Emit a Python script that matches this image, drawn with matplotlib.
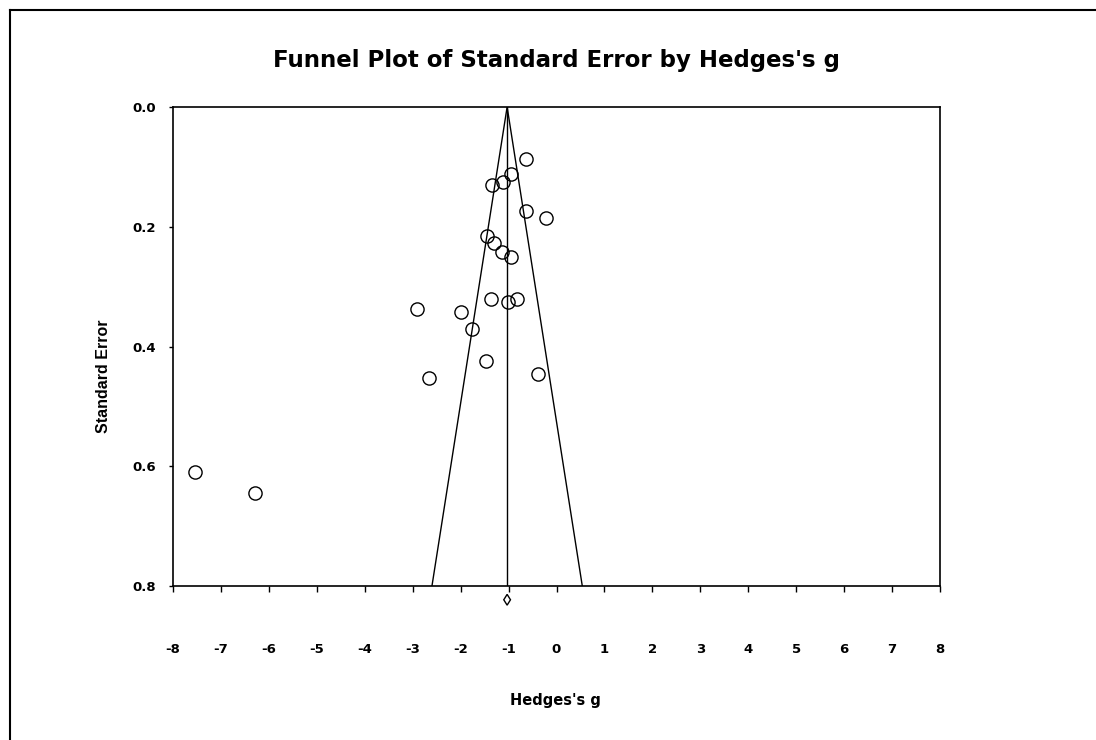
import matplotlib
matplotlib.use("Agg")
import matplotlib.pyplot as plt
from matplotlib.lines import Line2D
from matplotlib.patches import Polygon
import numpy as np

# Study effect sizes (Hedges's g) and standard errors
hedges_g = [-0.64, -0.95, -1.35, -1.11, -0.64, -0.22, -1.46, -1.30, -1.13, -0.95,
            -1.37, -1.01, -0.82, -2.90, -1.99, -1.77, -1.47, -2.65, -0.39, -7.55, -6.28]
std_err = [0.087, 0.112, 0.130, 0.126, 0.173, 0.186, 0.215, 0.227, 0.243, 0.251,
           0.321, 0.325, 0.321, 0.338, 0.343, 0.371, 0.424, 0.452, 0.446, 0.609, 0.645]
summary_g = -1.03
summary_ci_half = 0.07

x_ticks = list(range(-8, 9))
y_ticks = [0.0, 0.2, 0.4, 0.6, 0.8]
se_max = 0.8

plt.rcParams['font.family'] = ['DejaVu Sans']

fig = plt.figure(figsize=(10.96, 7.40), dpi=100)
ax = fig.add_axes([173/1096, 1-586/740, (940-173)/1096, (586-107)/740])

# funnel
ax.plot([summary_g - 1.96*se_max, summary_g, summary_g + 1.96*se_max], [se_max, 0, se_max],
        color='black', lw=1.0)
ax.plot([summary_g, summary_g], [0, se_max], color='black', lw=1.0)

ax.plot(hedges_g, std_err, linestyle='none', marker='o', markersize=9.5,
        markerfacecolor='none', markeredgecolor='black', markeredgewidth=1.0)

# summary diamond below the axis
yc = se_max + 0.023
hh = 0.009
diamond = Polygon([[summary_g - summary_ci_half, yc], [summary_g, yc - hh],
                   [summary_g + summary_ci_half, yc], [summary_g, yc + hh]],
                  closed=True, fill=False, edgecolor='black', lw=1.0, clip_on=False)
ax.add_patch(diamond)

ax.set_xlim(-8, 8)
ax.set_ylim(se_max, 0)
ax.set_xticks(x_ticks)
ax.set_xticklabels([str(t) for t in x_ticks], fontsize=9.5, fontweight='bold')
ax.set_yticks(y_ticks)
ax.set_yticklabels([f"{t:.1f}" for t in y_ticks], fontsize=9.5, fontweight='bold')
ax.tick_params(axis='x', direction='out', length=4, width=1, pad=37)
ax.tick_params(axis='y', direction='out', length=3, width=1, pad=9)
for s in ax.spines.values():
    s.set_linewidth(1.2)

fig.text(556/1096, 1-61/740, "Funnel Plot of Standard Error by Hedges's g",
         ha='center', va='center', fontsize=16.5, fontweight='bold')
fig.text(555/1096, 1-701/740, "Hedges's g", ha='center', va='center',
         fontsize=10.5, fontweight='bold')
fig.text(103/1096, 1-376/740, "Standard Error", ha='center', va='center',
         rotation=90, fontsize=11.5, fontweight='bold',
         family=['Liberation Sans Narrow', 'Liberation Sans'])

# outer frame lines (left and top)
fig.add_artist(Line2D([10/1096, 10/1096], [0, 1-10/740], color='black', lw=1.5,
                      transform=fig.transFigure))
fig.add_artist(Line2D([10/1096, 1], [1-10/740, 1-10/740], color='black', lw=1.5,
                      transform=fig.transFigure))

fig.savefig("out.png", dpi=100)
